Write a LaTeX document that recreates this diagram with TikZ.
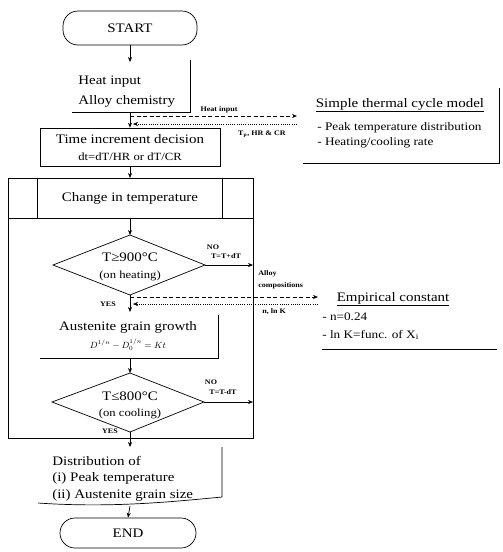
\documentclass[tikz,border=0pt]{standalone}
\usepackage{fontspec}
\setmainfont{Liberation Serif}[FakeStretch=1.15]
\usetikzlibrary{arrows.meta}
\begin{document}
\begin{tikzpicture}[x=1pt,y=-1pt, line width=0.7pt,
  arr/.style={-{Stealth[length=5pt,width=4pt]}},
  main/.style={font=\fontsize{13}{15}\selectfont, inner sep=0pt},
  sub/.style={font=\fontsize{11}{13}\selectfont, inner sep=0pt},
  item/.style={font=\fontsize{11.5}{13}\selectfont, inner sep=0pt, anchor=west},
  lbl/.style={font=\fontsize{7}{8}\selectfont\bfseries, inner sep=0pt},
  dsh/.style={dash pattern=on 4pt off 2.5pt},
  dtt/.style={dash pattern=on 1pt off 1.2pt, line width=0.5pt}]
\useasboundingbox (0,0) rectangle (503,552);

% START
\node[draw, rounded corners=15pt, minimum width=134pt, minimum height=34pt, main] (start) at (130,28) {START};

% Heat input / Alloy chemistry
\node[main, anchor=west] (hi1) at (78,82) {Heat input};
\node[main, anchor=west] (hi2) at (78,101) {Alloy chemistry};
\coordinate (hiIn) at (130,62);
\coordinate (hiTR) at (190,60);
\coordinate (hiBR) at (190,112);
\coordinate (hiBL) at (72,112);
\coordinate (hiOut) at (130,112);
\draw (hiTR) -- (hiBR) -- (hiBL);
\draw[arr] (start) -- (hiIn);

% Time increment
\node[draw, minimum width=180pt, minimum height=38pt, inner sep=0pt] (time) at (130,147) {};
\node[main] (t1) at (130,139) {Time increment decision};
\node[sub] (t2) at (130,157) {dt=dT/HR or dT/CR};
\draw[arr] (hiOut) -- (time.north);

% heat input exchange
\coordinate (da1) at (130,116);
\coordinate (db1) at (297,116);
\coordinate (pa1) at (297,124);
\coordinate (pb1) at (133,124);
\draw[dsh, arr] (da1) -- (db1);
\draw[dtt, arr] (pa1) -- (pb1);
\node[lbl] (lhi) at (219,110) {Heat input};
\node[lbl] (ltp) at (262,134) {T\textsubscript{p}, HR \& CR};

% Simple thermal cycle model
\coordinate (mTR) at (499,88);
\coordinate (mBR) at (499,163);
\coordinate (mBL) at (303,163);
\draw (mTR) -- (mBR) -- (mBL);
\node[main] (mt) at (400,105) {\underline{Simple thermal cycle model}};
\node[item] (m1) at (317,128) {- Peak temperature distribution};
\node[item] (m2) at (317,143) {- Heating/cooling rate};

% loop frame
\coordinate (fTL) at (8,178);
\coordinate (fBR) at (253,438);
\coordinate (hL) at (8,218);
\coordinate (hR) at (253,218);
\coordinate (v1t) at (37,178);
\coordinate (v1b) at (37,218);
\coordinate (v2t) at (222,178);
\coordinate (v2b) at (222,218);
\draw[line width=0.9pt] (fTL) rectangle (fBR);
\draw (hL) -- (hR);
\draw (v1t) -- (v1b);
\draw (v2t) -- (v2b);
\node[main] (chg) at (130,198) {Change in temperature};
\coordinate (hTop) at (130,178);
\coordinate (hBot) at (130,218);
\draw[arr] (time.south) -- (hTop);

% Diamond 1
\coordinate (d1T) at (130,235);
\coordinate (d1R) at (205,265);
\coordinate (d1B) at (130,295);
\coordinate (d1L) at (53,265);
\draw[arr] (hBot) -- (d1T);
\draw (d1T) -- (d1R) -- (d1B) -- (d1L) -- cycle;
\node[main] (dq1) at (130,257) {T≥900°C};
\node[sub] (dq1b) at (130,276) {(on heating)};
\coordinate (r1) at (253,265);
\draw[arr] (d1R) -- (r1);
\node[lbl] (no1) at (213,247) {NO};
\node[lbl] (tp1) at (226,256) {T=T+dT};
\node[lbl] (yes1) at (108,304) {YES};
\coordinate (agIn) at (130,312);
\draw[arr] (d1B) -- (agIn);

% alloy exchange
\coordinate (da2) at (130,297);
\coordinate (db2) at (318,297);
\coordinate (pa2) at (318,304);
\coordinate (pb2) at (133,304);
\draw[dsh, arr] (da2) -- (db2);
\draw[dtt, arr] (pa2) -- (pb2);
\node[lbl, anchor=west] (la1) at (258,274) {Alloy};
\node[lbl, anchor=west] (la2) at (258,286) {compositions};
\node[lbl, anchor=west] (lnk) at (262,312) {n, ln K};

% Austenite grain growth
\node[main] (ag) at (128,327) {Austenite grain growth};
\node[font=\fontsize{9}{10}\selectfont, inner sep=0pt] (agf) at (128,345) {$D^{1/n}-D_0^{1/n}=Kt$};
\coordinate (agTR) at (218,315);
\coordinate (agBR) at (218,358);
\coordinate (agBL) at (40,358);
\draw (agTR) -- (agBR) -- (agBL);
\coordinate (agOut) at (130,358);

% Diamond 2
\coordinate (d2T) at (130,373);
\coordinate (d2R) at (204,402);
\coordinate (d2B) at (130,432);
\coordinate (d2L) at (52,402);
\draw[arr] (agOut) -- (d2T);
\draw (d2T) -- (d2R) -- (d2B) -- (d2L) -- cycle;
\node[main] (dq2) at (130,396) {T≤800°C};
\node[sub] (dq2b) at (130,414) {(on cooling)};
\coordinate (r2) at (253,402);
\draw[arr] (d2R) -- (r2);
\node[lbl] (no2) at (211,382) {NO};
\node[lbl] (tp2) at (223,392) {T=T-dT};
\node[lbl] (yes2) at (110,431) {YES};

% Distribution
\coordinate (diIn) at (130,447);
\draw[arr] (d2B) -- (diIn);
\node[main, anchor=west] (di1) at (52,461) {Distribution of};
\node[main, anchor=west] (di2) at (52,478) {(i) Peak temperature};
\node[main, anchor=west] (di3) at (52,495) {(ii) Austenite grain size};
\coordinate (diTR) at (222,447);
\coordinate (diBR) at (222,497);
\coordinate (diBL) at (38,503);
\draw (diTR) -- (diBR) .. controls (170,502) and (110,508) .. (diBL);
\coordinate (diOut) at (130,506);

% END
\node[draw, rounded corners=15pt, minimum width=136pt, minimum height=30pt, main] (end) at (128,533) {END};
\draw[arr] (diOut) -- (end.north);

% Empirical constant
\node[main] (ec) at (393,299) {\underline{Empirical constant}};
\node[item] (e1) at (322,317) {- n=0.24};
\node[item] (e2) at (322,335) {- ln K=func. of X\textsubscript{i}};
\coordinate (eL) at (322,349);
\coordinate (eR) at (497,349);
\draw (eL) -- (eR);
\end{tikzpicture}
\end{document}
